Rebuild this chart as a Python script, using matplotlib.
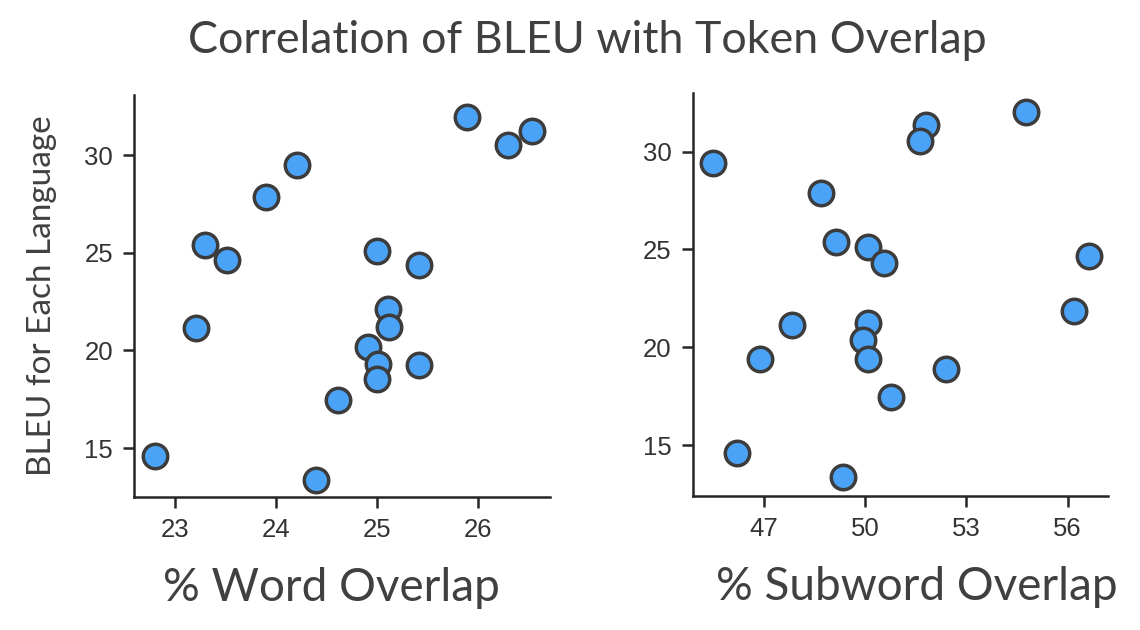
import matplotlib.pyplot as plt

# BLEU score per language vs. token overlap
word_overlap = [25.90, 26.54, 26.30, 24.21, 23.90, 23.30, 23.51, 25.00, 25.42, 25.11,
                25.12, 23.21, 24.91, 25.01, 25.00, 25.42, 24.62, 22.80, 24.40]
word_bleu = [31.96, 31.24, 30.51, 29.47, 27.87, 25.40, 24.63, 25.09, 24.38, 22.13,
             21.19, 21.17, 20.20, 19.32, 18.53, 19.26, 17.44, 14.58, 13.35]

subword_overlap = [54.76, 51.80, 51.62, 45.47, 48.70, 49.14, 50.07, 50.55, 56.64, 56.19,
                   50.08, 47.82, 49.92, 50.09, 46.89, 52.40, 50.77, 46.20, 49.34]
subword_bleu = [32.01, 31.35, 30.55, 29.41, 27.89, 25.40, 25.11, 24.30, 24.67, 21.88,
                21.23, 21.16, 20.38, 19.39, 19.39, 18.91, 17.47, 14.59, 13.36]

word_ticks = [23, 24, 25, 26]
subword_ticks = [47, 50, 53, 56]
bleu_ticks = [15, 20, 25, 30]

label_font = ['Lato', 'DejaVu Sans']
tick_font = ['Liberation Sans', 'DejaVu Sans']
text_color = '#404040'
dot_color = '#4aa3f6'
edge_color = '#3c3c3c'

fig = plt.figure(figsize=(11.4, 6.3), dpi=100)
ax1 = fig.add_axes([0.1175, 0.2111, 0.365, 0.638])
ax2 = fig.add_axes([0.6076, 0.2132, 0.3646, 0.6397])

panels = [
    (ax1, word_overlap, word_bleu, word_ticks, (22.59, 26.72), (12.5, 33.07), '% Word Overlap', 0.474),
    (ax2, subword_overlap, subword_bleu, subword_ticks, (44.88, 57.21), (12.42, 33.01), '% Subword Overlap', 0.54),
]

for ax, xs, ys, xticks, xlim, ylim, xlabel, label_x in panels:
    ax.scatter(xs, ys, s=310, color=dot_color, edgecolor=edge_color, linewidth=2.5, zorder=3, clip_on=False)
    ax.set_xlim(*xlim)
    ax.set_ylim(*ylim)
    ax.set_xticks(xticks)
    ax.set_yticks(bleu_ticks)
    for side in ['top', 'right']:
        ax.spines[side].set_visible(False)
    for side in ['left', 'bottom']:
        ax.spines[side].set_linewidth(1.8)
        ax.spines[side].set_color('#262626')
    ax.tick_params(direction='out', length=8, width=1.8, color='#262626',
                   labelsize=18.5, labelcolor='#333333', pad=7)
    for lbl in ax.get_xticklabels() + ax.get_yticklabels():
        lbl.set_family(tick_font)
    ax.set_xlabel(xlabel, family=label_font, fontsize=33, color=text_color, labelpad=16)
    ax.xaxis.set_label_coords(label_x, -0.175)

ax1.set_ylabel('BLEU for Each Language', family=label_font, fontsize=24, color=text_color, labelpad=20)

fig.text(0.515, 0.935, 'Correlation of BLEU with Token Overlap', family=label_font,
         fontsize=32.3, color=text_color, ha='center', va='center')

plt.savefig('out.png', dpi=100)
